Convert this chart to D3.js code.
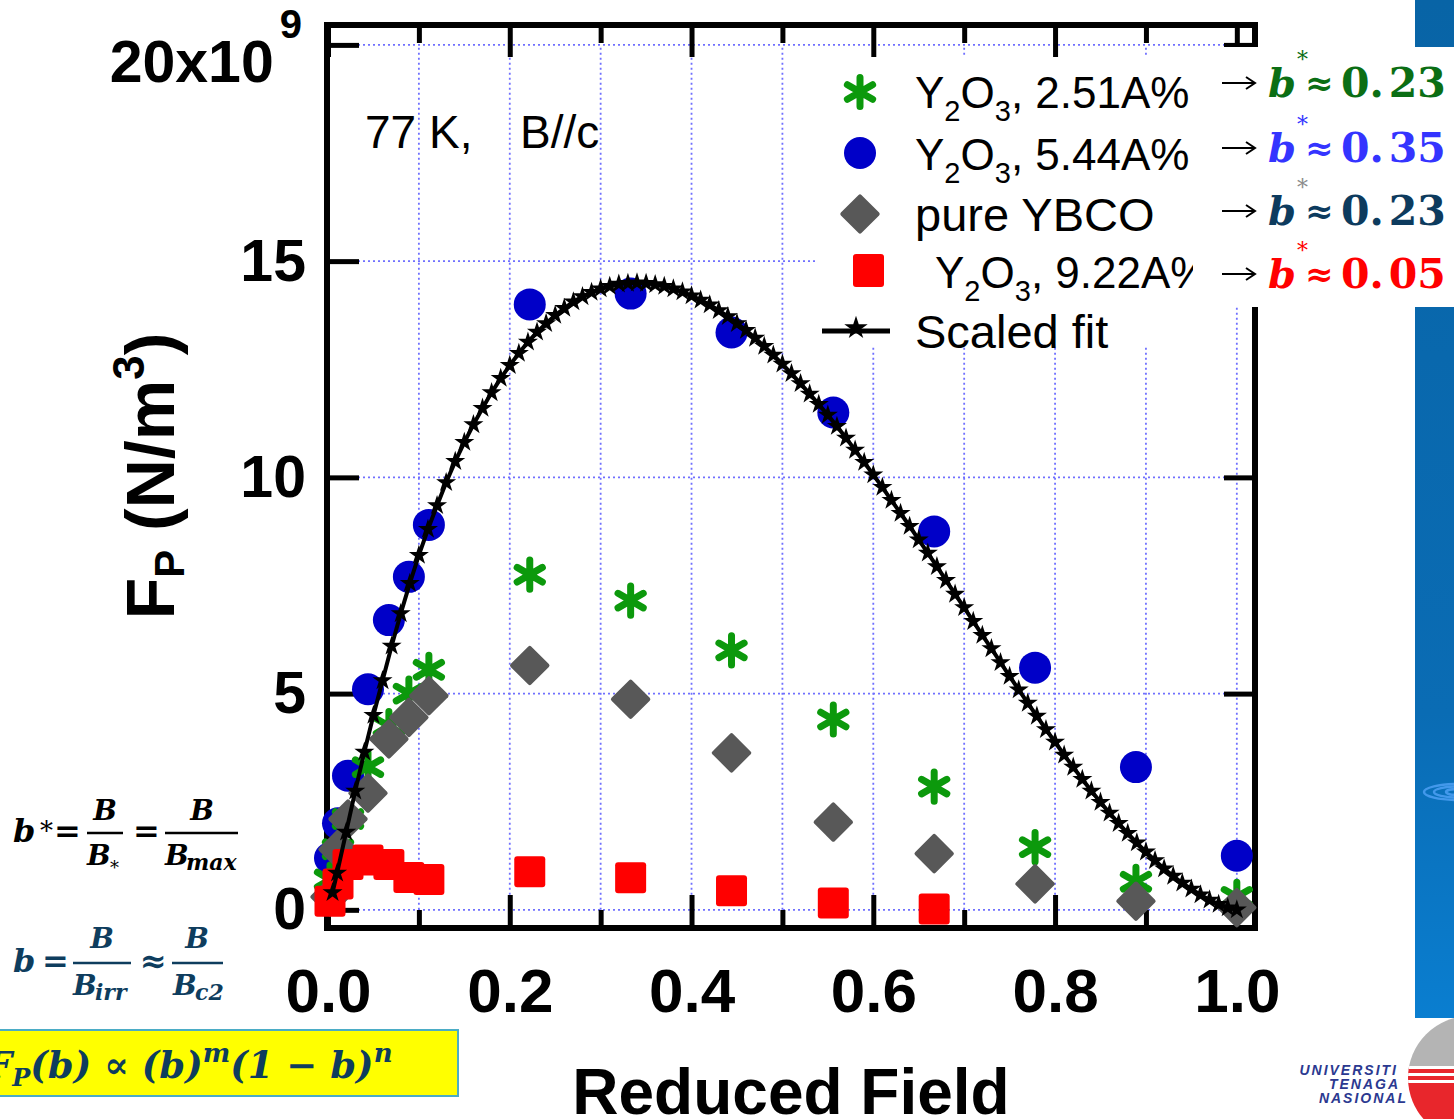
<!DOCTYPE html>
<html>
<head>
<meta charset="utf-8">
<style>
  body { margin: 0; background: #fff; }
  svg { display: block; }
  .tick text { font-family: "Liberation Sans", Arial, sans-serif; font-weight: bold; fill: #000; }
</style>
</head>
<body>
<div id="chart"></div>
<script src="https://d3js.org/d3.v7.min.js"></script>
<script>
// reduced field b = B / B_max
const bField = [0.0022, 0.011, 0.022, 0.044, 0.067, 0.089, 0.111, 0.222, 0.333, 0.444, 0.556, 0.667, 0.778, 0.889, 1.0];

// pinning force, units of 1e9 N/m^3
const fpY2O3_251 = [0.7, 1.4, 2.1, 3.3, 4.25, 5.0, 5.55, 7.75, 7.15, 6.0, 4.4, 2.85, 1.45, 0.65, 0.3];
const fpY2O3_544 = [1.2, 2.0, 3.1, 5.1, 6.7, 7.7, 8.9, 14.0, 14.25, 13.35, 11.5, 8.75, 5.6, 3.3, 1.25];
const fpPure = [0.3, 1.4, 2.1, 2.7, 3.95, 4.45, 4.95, 5.65, 4.87, 3.63, 2.03, 1.3, 0.6, 0.2, 0.05];
const fpY2O3_922 = [0.2, 0.6, 1.05, 1.15, 1.05, 0.75, 0.7, 0.88, 0.74, 0.44, 0.16, 0.02];

// scaled fit curve
const fitB = [0.005, 0.01, 0.02, 0.03, 0.04, 0.05, 0.06, 0.07, 0.08, 0.09, 0.10,
  0.11, 0.12, 0.13, 0.14, 0.15, 0.16, 0.17, 0.18, 0.19, 0.20,
  0.21, 0.22, 0.23, 0.24, 0.25, 0.26, 0.27, 0.28, 0.29, 0.30,
  0.31, 0.32, 0.33, 0.34, 0.35, 0.36, 0.37, 0.38, 0.39, 0.40,
  0.41, 0.42, 0.43, 0.44, 0.45, 0.46, 0.47, 0.48, 0.49, 0.50,
  0.51, 0.52, 0.53, 0.54, 0.55, 0.56, 0.57, 0.58, 0.59, 0.60,
  0.61, 0.62, 0.63, 0.64, 0.65, 0.66, 0.67, 0.68, 0.69, 0.70,
  0.71, 0.72, 0.73, 0.74, 0.75, 0.76, 0.77, 0.78, 0.79, 0.80,
  0.81, 0.82, 0.83, 0.84, 0.85, 0.86, 0.87, 0.88, 0.89, 0.90,
  0.91, 0.92, 0.93, 0.94, 0.95, 0.96, 0.97, 0.98, 0.99, 1.00];
const fitFp = [0.40, 0.85, 1.80, 2.75, 3.65, 4.50, 5.30, 6.10, 6.85, 7.55, 8.20,
  8.80, 9.35, 9.88, 10.37, 10.81, 11.22, 11.60, 11.96, 12.29, 12.59,
  12.87, 13.13, 13.36, 13.56, 13.75, 13.91, 14.06, 14.18, 14.28, 14.36,
  14.42, 14.47, 14.49, 14.50, 14.49, 14.46, 14.42, 14.36, 14.29, 14.20,
  14.10, 13.99, 13.86, 13.72, 13.56, 13.40, 13.22, 13.03, 12.83, 12.62,
  12.40, 12.17, 11.93, 11.69, 11.44, 11.18, 10.91, 10.63, 10.35, 10.06,
  9.77, 9.47, 9.17, 8.87, 8.56, 8.25, 7.94, 7.62, 7.30, 6.99,
  6.67, 6.35, 6.04, 5.72, 5.40, 5.09, 4.78, 4.48, 4.17, 3.88,
  3.58, 3.30, 3.02, 2.75, 2.49, 2.24, 2.00, 1.77, 1.55, 1.34,
  1.14, 0.95, 0.78, 0.62, 0.48, 0.35, 0.23, 0.13, 0.05, 0.00];

// ticks
const xTicks = [0, 0.2, 0.4, 0.6, 0.8, 1.0];
const xTickLabels = ['0.0', '0.2', '0.4', '0.6', '0.8', '1.0'];
const xMinorTicks = [0.1, 0.3, 0.5, 0.7, 0.9];
const yTicks = [0, 5, 10, 15, 20];
const yTickLabels = ['0', '5', '10', '15', '20x10'];
const xGrid = [0.1, 0.2, 0.3, 0.4, 0.5, 0.6, 0.7, 0.8, 0.9, 1.0];

const sans = '"Liberation Sans", Arial, sans-serif';
const serif = '"DejaVu Serif", serif';

const width = 1454;
const height = 1119;
const plot = { left: 328, right: 1255, top: 25, bottom: 928 };

const svg = d3.select('#chart')
  .append('svg')
  .attr('width', width)
  .attr('height', height);
const defs = svg.append('defs');

const x = d3.scaleLinear().domain([0, 1.02]).range([plot.left, plot.right]);
const y = d3.scaleLinear().domain([-0.42, 20.46]).range([plot.bottom, plot.top]);

// dotted grid
const grid = svg.append('g')
  .attr('stroke', '#7070ff')
  .attr('stroke-width', 1.8)
  .attr('stroke-dasharray', '2,3');
grid.selectAll('line.gx').data(xGrid).enter().append('line')
  .attr('x1', d => x(d)).attr('x2', d => x(d))
  .attr('y1', y(0)).attr('y2', y(20));
grid.selectAll('line.gy').data(yTicks).enter().append('line')
  .attr('x1', x(0)).attr('x2', x(1))
  .attr('y1', d => y(d)).attr('y2', d => y(d));

// frame
svg.append('rect')
  .attr('x', plot.left - 1).attr('y', plot.top)
  .attr('width', plot.right - plot.left + 1).attr('height', plot.bottom - plot.top)
  .attr('fill', 'none').attr('stroke', '#000').attr('stroke-width', 6);

function styleAxis(g) {
  g.select('.domain').remove();
  g.selectAll('line').attr('stroke', '#000').attr('stroke-width', 5);
}

// x axes
svg.append('g')
  .attr('transform', `translate(0,${plot.bottom})`)
  .call(d3.axisBottom(x).tickValues(xTicks).tickSize(-33).tickPadding(40)
    .tickFormat((d, i) => xTickLabels[i]))
  .call(styleAxis)
  .selectAll('text').attr('font-size', 62);
svg.append('g')
  .attr('transform', `translate(0,${plot.bottom})`)
  .call(d3.axisBottom(x).tickValues(xMinorTicks).tickSize(-18).tickFormat(''))
  .call(styleAxis);
svg.append('g')
  .attr('transform', `translate(0,${plot.top})`)
  .call(d3.axisTop(x).tickValues(xTicks).tickSize(-32).tickFormat(''))
  .call(styleAxis);
svg.append('g')
  .attr('transform', `translate(0,${plot.top})`)
  .call(d3.axisTop(x).tickValues(xMinorTicks).tickSize(-18).tickFormat(''))
  .call(styleAxis);

// y axes
const yAxisG = svg.append('g')
  .attr('transform', `translate(${plot.left},0)`)
  .call(d3.axisLeft(y).tickValues(yTicks).tickSize(-31).tickPadding(22)
    .tickFormat((d, i) => yTickLabels[i]))
  .call(styleAxis);
yAxisG.selectAll('text').attr('font-size', 59);
yAxisG.selectAll('.tick').filter(d => d === 20).select('text')
  .attr('dx', -4).attr('dy', '0.62em')
  .append('tspan').attr('font-size', 40).attr('dx', 6).attr('dy', -44).text('9');
svg.append('g')
  .attr('transform', `translate(${plot.right},0)`)
  .call(d3.axisRight(y).tickValues(yTicks).tickSize(-31).tickFormat(''))
  .call(styleAxis);

// axis titles
svg.append('text')
  .attr('x', 791).attr('y', 1114)
  .attr('text-anchor', 'middle')
  .attr('font-family', sans).attr('font-weight', 'bold').attr('font-size', 64)
  .text('Reduced Field');

const yTitle = svg.append('text')
  .attr('transform', 'translate(174,476) rotate(-90)')
  .attr('text-anchor', 'middle')
  .attr('font-family', sans).attr('font-weight', 'bold').attr('font-size', 68);
yTitle.append('tspan').text('F');
yTitle.append('tspan').attr('font-size', 42).attr('dy', 10).text('P');
yTitle.append('tspan').attr('dy', -10).text(' (N/m');
yTitle.append('tspan').attr('font-size', 44).attr('dy', -30).text('3');
yTitle.append('tspan').attr('dy', 30).text(')');

// condition label
svg.append('text').attr('x', 365).attr('y', 148)
  .attr('font-family', sans).attr('font-size', 46).text('77 K,');
svg.append('text').attr('x', 520).attr('y', 148)
  .attr('font-family', sans).attr('font-size', 46).text('B//c');

// markers
const asterisk = d3.symbol().type(d3.symbolAsterisk).size(600);
const star = d3.symbol().type(d3.symbolStar).size(125);
const green = '#0c990c';

// blue circles
svg.append('g').selectAll('circle')
  .data(fpY2O3_544).enter().append('circle')
  .attr('cx', (d, i) => x(bField[i])).attr('cy', d => y(d))
  .attr('r', 16).attr('fill', '#0000c8');

// green asterisks
svg.append('g').selectAll('path')
  .data(fpY2O3_251).enter().append('path')
  .attr('transform', (d, i) => `translate(${x(bField[i])},${y(d)})`)
  .attr('d', asterisk)
  .attr('fill', 'none').attr('stroke', green).attr('stroke-width', 7)
  .attr('stroke-linecap', 'round');

// grey diamonds
svg.append('g').selectAll('rect')
  .data(fpPure).enter().append('rect')
  .attr('x', -14.5).attr('y', -14.5).attr('width', 29).attr('height', 29).attr('rx', 2)
  .attr('transform', (d, i) => `translate(${x(bField[i])},${y(d)}) rotate(45)`)
  .attr('fill', '#585858');

// red squares
svg.append('g').selectAll('rect')
  .data(fpY2O3_922).enter().append('rect')
  .attr('x', (d, i) => x(bField[i]) - 15.5).attr('y', d => y(d) - 15.5)
  .attr('width', 31).attr('height', 31).attr('rx', 3)
  .attr('fill', '#ff0000');

// scaled fit line
const fitLine = d3.line()
  .x((d, i) => x(fitB[i]))
  .y(d => y(d));
svg.append('path')
  .datum(fitFp)
  .attr('d', fitLine)
  .attr('fill', 'none').attr('stroke', '#000').attr('stroke-width', 4);
svg.append('g').selectAll('path')
  .data(fitFp).enter().append('path')
  .attr('transform', (d, i) => `translate(${x(fitB[i])},${y(d)})`)
  .attr('d', star).attr('fill', '#000');

// legend
svg.append('rect').attr('x', 818).attr('y', 57).attr('width', 380).attr('height', 290).attr('fill', '#fff');
defs.append('clipPath').attr('id', 'legClip')
  .append('rect').attr('x', 800).attr('y', 40).attr('width', 393).attr('height', 320);
const leg = svg.append('g').attr('font-family', sans).attr('font-size', 47)
  .attr('clip-path', 'url(#legClip)');

function y2o3(g, xPos, yPos, rest) {
  const t = g.append('text').attr('x', xPos).attr('y', yPos).attr('font-size', 44);
  t.append('tspan').text('Y');
  t.append('tspan').attr('font-size', 29).attr('dy', 13).text('2');
  t.append('tspan').attr('dy', -13).text('O');
  t.append('tspan').attr('font-size', 29).attr('dy', 13).text('3');
  t.append('tspan').attr('dy', -13).text(rest);
}

leg.append('path').attr('transform', 'translate(860,92)').attr('d', asterisk)
  .attr('fill', 'none').attr('stroke', green).attr('stroke-width', 7).attr('stroke-linecap', 'round');
y2o3(leg, 915, 108, ', 2.51A%');
leg.append('circle').attr('cx', 860).attr('cy', 153).attr('r', 16).attr('fill', '#0000c8');
y2o3(leg, 915, 170, ', 5.44A%');
leg.append('rect').attr('x', -14.5).attr('y', -14.5).attr('width', 29).attr('height', 29).attr('rx', 2)
  .attr('transform', 'translate(860,214) rotate(45)').attr('fill', '#585858');
leg.append('text').attr('x', 915).attr('y', 231).text('pure YBCO');
leg.append('rect').attr('x', 853).attr('y', 254).attr('width', 31).attr('height', 33).attr('rx', 3).attr('fill', '#ff0000');
y2o3(leg, 935, 288, ', 9.22A%');
leg.append('line').attr('x1', 822).attr('x2', 890).attr('y1', 331).attr('y2', 331)
  .attr('stroke', '#000').attr('stroke-width', 5);
leg.append('path').attr('transform', 'translate(856,328)')
  .attr('d', d3.symbol().type(d3.symbolStar).size(170)).attr('fill', '#000');
leg.append('text').attr('x', 915).attr('y', 348).text('Scaled fit');

// right side blue bar
const grad = defs.append('linearGradient').attr('id', 'barGrad')
  .attr('x1', 0).attr('y1', 0).attr('x2', 0).attr('y2', 1);
grad.append('stop').attr('offset', '0%').attr('stop-color', '#0864a6');
grad.append('stop').attr('offset', '70%').attr('stop-color', '#0a6cb4');
grad.append('stop').attr('offset', '100%').attr('stop-color', '#0a7ed0');
defs.append('clipPath').attr('id', 'barClip')
  .append('rect').attr('x', 1415).attr('y', 0).attr('width', 39).attr('height', 1018);
const barG = svg.append('g').attr('clip-path', 'url(#barClip)');
barG.append('rect').attr('x', 1415).attr('y', 0).attr('width', 39).attr('height', 1018)
  .attr('fill', 'url(#barGrad)');
[[34, 8], [24, 5.5], [12, 3]].forEach(r => {
  barG.append('ellipse').attr('cx', 1458).attr('cy', 792).attr('rx', r[0]).attr('ry', r[1])
    .attr('fill', 'none').attr('stroke', 'rgba(90,170,255,0.7)').attr('stroke-width', 2.5);
});

// b* annotations
svg.append('rect').attr('x', 1193).attr('y', 47).attr('width', 262).attr('height', 260).attr('fill', '#fff');
const bStar = [
  { y: 97, value: '0.23', color: '#0b6e14', ast: '#0b6e14' },
  { y: 162, value: '0.35', color: '#3434ff', ast: '#3434ff' },
  { y: 225, value: '0.23', color: '#0d3b5e', ast: '#8c8c8c' },
  { y: 288, value: '0.05', color: '#ff0000', ast: '#ff0000' }
];
bStar.forEach(r => {
  const ay = r.y - 14;
  svg.append('path')
    .attr('d', `M1222,${ay} H1254 M1246,${ay - 6} L1255,${ay} L1246,${ay + 6}`)
    .attr('fill', 'none').attr('stroke', '#000').attr('stroke-width', 2);
  svg.append('text').attr('x', 1268).attr('y', r.y)
    .attr('font-family', serif).attr('font-weight', 'bold').attr('font-style', 'italic')
    .attr('font-size', 40).attr('fill', r.color).text('b');
  svg.append('text').attr('x', 1297).attr('y', r.y - 30)
    .attr('font-family', serif).attr('font-size', 22).attr('fill', r.ast).text('*');
  svg.append('text').attr('x', 1305).attr('y', r.y - 2)
    .attr('font-family', serif).attr('font-weight', 'bold')
    .attr('font-size', 34).attr('fill', r.color).text('\u2248');
  const num = svg.append('text').attr('x', 1341).attr('y', r.y)
    .attr('font-family', serif).attr('font-weight', 'bold')
    .attr('font-size', 41).attr('fill', r.color);
  num.append('tspan').text(r.value.slice(0, 2));
  num.append('tspan').attr('dx', 5).text(r.value.slice(2));
});

// formulas on the left
function mathText(xPos, yPos, str, size, color, anchor, italic) {
  return svg.append('text').attr('x', xPos).attr('y', yPos)
    .attr('font-family', serif).attr('font-weight', 'bold')
    .attr('font-style', italic === false ? 'normal' : 'italic')
    .attr('font-size', size).attr('fill', color)
    .attr('text-anchor', anchor || 'start').text(str);
}
function bar(x1, x2, yPos, color) {
  svg.append('line').attr('x1', x1).attr('x2', x2).attr('y1', yPos).attr('y2', yPos)
    .attr('stroke', color).attr('stroke-width', 2.5);
}

mathText(13, 842, 'b', 32, '#000');
mathText(40, 840, '*', 26, '#000', 'start', false).attr('font-weight', 'normal');
mathText(54, 842, '=', 32, '#000', 'start', false);
bar(87, 123, 833, '#000');
mathText(105, 820, 'B', 28, '#000', 'middle');
mathText(87, 865, 'B', 28, '#000');
mathText(110, 874, '*', 18, '#000', 'start', false).attr('font-weight', 'normal');
mathText(133, 842, '=', 32, '#000', 'start', false);
bar(165, 238, 833, '#000');
mathText(202, 820, 'B', 28, '#000', 'middle');
mathText(165, 865, 'B', 28, '#000');
mathText(186, 870, 'max', 22, '#000');

const navy = '#0e3d5e';
mathText(13, 972, 'b', 32, navy);
mathText(42, 972, '=', 32, navy, 'start', false);
bar(73, 131, 963, navy);
mathText(102, 948, 'B', 28, navy, 'middle');
mathText(73, 995, 'B', 28, navy);
mathText(95, 1000, 'irr', 22, navy);
mathText(140, 972, '\u2248', 32, navy, 'start', false);
bar(172, 223, 963, navy);
mathText(197, 948, 'B', 28, navy, 'middle');
mathText(173, 995, 'B', 28, navy);
mathText(195, 1000, 'c2', 22, navy);

// yellow box with the scaling law
svg.append('rect').attr('x', -2).attr('y', 1030).attr('width', 460).attr('height', 66)
  .attr('fill', '#ffff00').attr('stroke', '#4bacc6').attr('stroke-width', 2);
defs.append('clipPath').attr('id', 'lawClip')
  .append('rect').attr('x', 0).attr('y', 1030).attr('width', 460).attr('height', 66);
const law = svg.append('text').attr('x', -14).attr('y', 1078)
  .attr('clip-path', 'url(#lawClip)')
  .attr('font-family', serif).attr('font-weight', 'bold').attr('font-style', 'italic')
  .attr('font-size', 37).attr('fill', navy);
law.append('tspan').text('F');
law.append('tspan').attr('font-size', 24).attr('dy', 8).text('P');
law.append('tspan').attr('dy', -8).text('(b) \u221D (b)');
law.append('tspan').attr('font-size', 26).attr('dy', -16).text('m');
law.append('tspan').attr('dy', 16).text('(1 \u2212 b)');
law.append('tspan').attr('font-size', 26).attr('dy', -16).text('n');

// university logo
const logo = svg.append('g');
defs.append('clipPath').attr('id', 'logoClip')
  .append('circle').attr('cx', 1470).attr('cy', 1078).attr('r', 62);
const lg = logo.append('g').attr('clip-path', 'url(#logoClip)');
lg.append('rect').attr('x', 1400).attr('y', 1010).attr('width', 60).attr('height', 60).attr('fill', '#b4b4b4');
lg.append('rect').attr('x', 1400).attr('y', 1066).attr('width', 60).attr('height', 80).attr('fill', '#e8262c');
[1066, 1073, 1080].forEach(v => {
  lg.append('rect').attr('x', 1400).attr('y', v).attr('width', 60).attr('height', 3).attr('fill', '#fff');
});
const logoText = [['UNIVERSITI', 1398, 1075], ['TENAGA', 1400, 1089], ['NASIONAL', 1408, 1103]];
logoText.forEach(t => {
  logo.append('text').attr('x', t[1]).attr('y', t[2]).attr('text-anchor', 'end')
    .attr('font-family', sans).attr('font-weight', 'bold').attr('font-style', 'italic')
    .attr('font-size', 14).attr('letter-spacing', 2).attr('fill', '#2b3990').text(t[0]);
});
</script>
</body>
</html>
